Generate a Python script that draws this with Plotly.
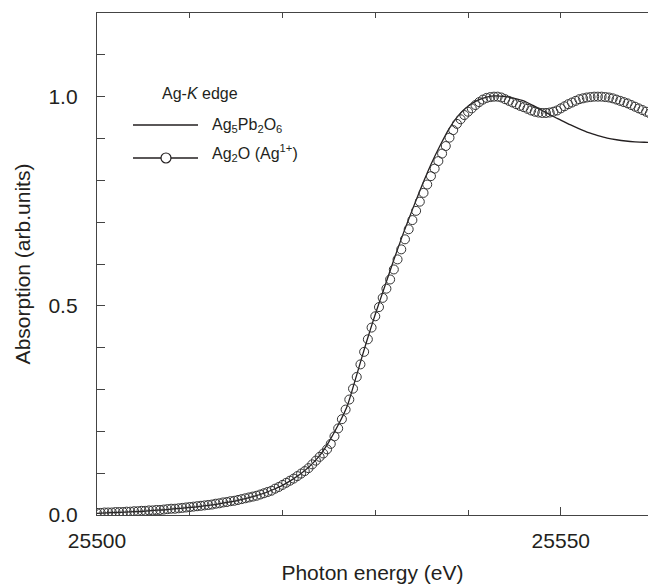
import numpy as np
import plotly.graph_objects as go

# Ag2O (Ag1+) reference: energies (eV) and normalized absorption
ag2o_energy = [25500 + 0.4 * i for i in range(151)]
ag2o_abs = [
    0.005, 0.005, 0.006, 0.006, 0.006, 0.007, 0.007, 0.007, 0.008, 0.008,
    0.009, 0.009, 0.010, 0.010, 0.011, 0.011, 0.012, 0.012, 0.013, 0.014,
    0.015, 0.015, 0.016, 0.017, 0.018, 0.019, 0.020, 0.021, 0.022, 0.023,
    0.024, 0.025, 0.027, 0.028, 0.030, 0.031, 0.033, 0.034, 0.036, 0.038,
    0.040, 0.042, 0.044, 0.046, 0.049, 0.052, 0.055, 0.058, 0.063, 0.067,
    0.072, 0.077, 0.082, 0.087, 0.093, 0.099, 0.105, 0.112, 0.121, 0.130,
    0.139, 0.147, 0.157, 0.170, 0.188, 0.207, 0.229, 0.252, 0.276, 0.302,
    0.330, 0.360, 0.390, 0.420, 0.448, 0.475, 0.497, 0.519, 0.541, 0.563,
    0.587, 0.611, 0.635, 0.659, 0.683, 0.705, 0.727, 0.749, 0.770, 0.790,
    0.810, 0.828, 0.846, 0.864, 0.882, 0.902, 0.920, 0.935, 0.946, 0.956,
    0.964, 0.972, 0.980, 0.987, 0.993, 0.997, 0.999, 1.000, 1.000, 0.998,
    0.994, 0.990, 0.986, 0.982, 0.978, 0.975, 0.971, 0.967, 0.964, 0.962,
    0.961, 0.961, 0.962, 0.964, 0.967, 0.972, 0.977, 0.982, 0.986, 0.990,
    0.994, 0.996, 0.998, 0.999, 1.000, 1.000, 1.000, 0.999, 0.998, 0.996,
    0.993, 0.990, 0.987, 0.984, 0.980, 0.976, 0.972, 0.968, 0.964, 0.960,
    0.956,
]

# Ag5Pb2O6 sample: energies (eV) and normalized absorption
sample_energy = list(range(25500, 25561))
sample_abs = [
    0.004, 0.005, 0.006, 0.007, 0.008, 0.009, 0.011, 0.012, 0.014, 0.016,
    0.018, 0.020, 0.023, 0.026, 0.030, 0.034, 0.039, 0.045, 0.052, 0.061,
    0.071, 0.084, 0.099, 0.118, 0.142, 0.175, 0.215, 0.262, 0.335, 0.410,
    0.480, 0.545, 0.610, 0.672, 0.730, 0.786, 0.838, 0.884, 0.925, 0.956,
    0.977, 0.991, 0.999, 1.002, 1.000, 0.996, 0.990, 0.979, 0.967, 0.955,
    0.944, 0.933, 0.923, 0.914, 0.907, 0.901, 0.897, 0.894, 0.892, 0.891,
    0.891,
]

x_tick_vals = [25500, 25550]
x_tick_text = ["25500", "25550"]
y_tick_vals = [0.0, 0.5, 1.0]

FONT = "Liberation Sans, Arial, sans-serif"
INK = "#231f20"
AXC = "#444444"
X_RANGE = [25500, 25559.4]

fig = go.Figure()
fig.add_trace(go.Scatter(
    x=sample_energy, y=sample_abs, mode="lines",
    line=dict(color=INK, width=1.3, shape="spline", smoothing=0.6),
    name="Ag<sub>5</sub>Pb<sub>2</sub>O<sub>6</sub>", showlegend=False,
))
fig.add_trace(go.Scatter(
    x=ag2o_energy, y=ag2o_abs, mode="markers",
    marker=dict(symbol="circle-open", size=9, color="#333333", line=dict(width=1)),
    name="Ag<sub>2</sub>O (Ag<sup>1+</sup>)", showlegend=False,
))
# invisible trace to carry the top (mirror) axis with its tick marks
fig.add_trace(go.Scatter(
    x=[X_RANGE[0]], y=[0], xaxis="x2", mode="markers",
    marker=dict(opacity=0), hoverinfo="skip", showlegend=False,
))

# hand-made legend (long sample lines as in the original)
leg_y1, leg_y2 = 0.7769, 0.7112
lx0, lx1, lxc, ltx = 0.0653, 0.1833, 0.1252, 0.2051
fig.add_shape(type="line", xref="paper", yref="paper", x0=lx0, x1=lx1, y0=leg_y1, y1=leg_y1,
              line=dict(color=INK, width=1.3))
fig.add_shape(type="line", xref="paper", yref="paper", x0=lx0, x1=lx1, y0=leg_y2, y1=leg_y2,
              line=dict(color=INK, width=1.3))
fig.add_shape(type="circle", xref="paper", yref="paper", xsizemode="pixel", ysizemode="pixel",
              xanchor=lxc, yanchor=leg_y2, x0=-5, x1=5, y0=-5, y1=5,
              line=dict(color=INK, width=1.2), fillcolor="white")
fig.add_annotation(xref="paper", yref="paper", x=0.1143, y=0.8406, xanchor="left", yanchor="middle",
                   text="Ag-<i>K</i> edge", showarrow=False, font=dict(size=16, color=INK, family=FONT))
fig.add_annotation(xref="paper", yref="paper", x=ltx, y=0.775, xanchor="left", yanchor="middle",
                   text="Ag<sub>5</sub>Pb<sub>2</sub>O<sub>6</sub>", showarrow=False,
                   font=dict(size=16, color=INK, family=FONT))
fig.add_annotation(xref="paper", yref="paper", x=ltx, y=0.721, xanchor="left", yanchor="middle",
                   text="Ag<sub>2</sub>O (Ag<sup>1+</sup>)", showarrow=False,
                   font=dict(size=16, color=INK, family=FONT))

fig.update_layout(
    width=648, height=585,
    margin=dict(l=97, r=0, t=13, b=70, autoexpand=False),
    paper_bgcolor="white", plot_bgcolor="white",
    font=dict(family=FONT, color=INK, size=21),
    showlegend=False,
    xaxis=dict(
        range=X_RANGE, showgrid=False, zeroline=False,
        showline=True, linecolor=AXC, linewidth=1.3,
        tickmode="array", tickvals=x_tick_vals, ticktext=x_tick_text,
        ticks="inside", ticklen=8, tickwidth=1.2, tickcolor=AXC,
        minor=dict(dtick=10, ticks="inside", ticklen=5, tickwidth=1.2, tickcolor=AXC, showgrid=False),
        tickfont=dict(size=21, color=INK), ticklabelstandoff=7,
        title=dict(text="Photon energy (eV)", font=dict(size=21, color=INK), standoff=13),
    ),
    xaxis2=dict(
        range=X_RANGE, overlaying="x", side="top", anchor="y",
        showgrid=False, zeroline=False, showline=True, linecolor=AXC, linewidth=1.3,
        tickmode="linear", tick0=25500, dtick=10, ticks="inside", ticklen=5,
        tickwidth=1.2, tickcolor=AXC, showticklabels=False,
    ),
    yaxis=dict(
        range=[0, 1.2], showgrid=False, zeroline=False,
        showline=True, linecolor=AXC, linewidth=1.3,
        tickmode="array", tickvals=y_tick_vals, tickformat=".1f",
        ticks="inside", ticklen=8, tickwidth=1.2, tickcolor=AXC,
        minor=dict(dtick=0.1, ticks="inside", ticklen=8, tickwidth=1.2, tickcolor=AXC, showgrid=False),
        tickfont=dict(size=21, color=INK), ticklabelstandoff=14,
        title=dict(text="Absorption (arb.units)", font=dict(size=21, color=INK), standoff=12),
    ),
)

fig.write_html("out.html")
